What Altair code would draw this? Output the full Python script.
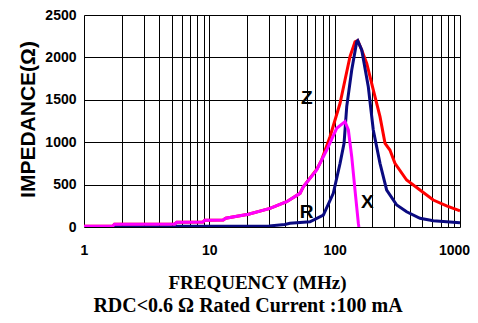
import altair as alt
import pandas as pd

# ---- data ----
r_freq = [1, 1.7, 1.75, 5.3, 5.5, 8.9, 9.2, 12.9, 13.5, 20.5, 30.5, 41.4, 52.9, 56.2,
          71.9, 86.4, 103.8, 120.9, 128.6, 136.8, 145.3, 154.5, 156]
r_vals = [10, 12, 32, 36, 55, 58, 79, 82, 103, 150, 220, 298, 397, 475,
          672, 908, 1164, 1242, 1144, 829, 436, 44, 0]

x_freq = [1, 5.4, 5.5, 30, 40, 44, 63.5, 81.2, 97.5, 110.4, 118.8, 124.8, 136.8, 150,
          152.7, 164.4, 185.5, 203.3, 230, 260, 312.7, 375, 479.5, 612, 1000]
x_vals = [0, 0, 8, 12, 30, 44, 62, 141, 397, 751, 987, 1419, 1851, 2185,
          2197, 2087, 1654, 1144, 751, 436, 259, 180, 103, 74, 51]

z_freq = [1, 1.7, 1.75, 5.3, 5.5, 8.9, 9.2, 12.9, 13.5, 20.5, 30.5, 41.4, 52.9, 56.2,
          71.9, 78.9, 91.8, 110.4, 120.9, 132.5, 145.3, 152.7, 164.4, 180.3, 203.3,
          230, 252.3, 276, 302.7, 375, 479.5, 612, 781.6, 1000]
z_vals = [10, 12, 32, 36, 55, 58, 79, 82, 103, 150, 220, 298, 397, 475,
          680, 795, 1065, 1459, 1733, 2008, 2185, 2200, 2087, 1930, 1616,
          1301, 987, 908, 751, 554, 436, 318, 248, 192]

label_text = ["Z", "R", "X"]
label_freq = [59.8, 59.8, 182]
label_vals = [1517, 180, 298]

grid_freqs = [1, 2, 3, 4, 5, 6, 7, 8, 9,
              10, 20, 30, 40, 50, 60, 70, 80, 90,
              100, 200, 300, 400, 500, 600, 700, 800, 900, 1000]
decade_labels = [1, 10, 100, 1000]
y_ticks = [0, 500, 1000, 1500, 2000, 2500]

df_r = pd.DataFrame({"f": r_freq, "v": r_vals})
df_x = pd.DataFrame({"f": x_freq, "v": x_vals})
df_z = pd.DataFrame({"f": z_freq, "v": z_vals})
df_lab = pd.DataFrame({"f": label_freq, "v": label_vals, "t": label_text})

xenc = alt.X(
    "f:Q",
    scale=alt.Scale(type="log", domain=[1, 1000], nice=False),
    axis=alt.Axis(
        values=grid_freqs,
        format="d",
        labelExpr="indexof(" + str(decade_labels) + ", datum.value) >= 0 ? datum.label : ''",
        grid=True, gridColor="black", gridWidth=1, gridOpacity=1,
        ticks=False, domain=False,
        labelFont="Liberation Sans", labelFontWeight="bold", labelFontSize=14,
        labelColor="black", labelPadding=16, labelOverlap=False, labelFlush=False,
        labelBound=False,
        labelOffset={"condition": {"test": "datum.value >= 1000", "value": -6}, "value": 0},
        title="FREQUENCY (MHz)", titleFont="Liberation Serif", titleFontSize=19,
        titleFontWeight="bold", titleColor="black",
        titleX=173, titleY=55, titleBaseline="middle", titleAlign="center",
    ),
)
yenc = alt.Y(
    "v:Q",
    scale=alt.Scale(domain=[0, 2500], nice=False),
    axis=alt.Axis(
        values=y_ticks,
        format="d",
        grid=True, gridColor="black", gridWidth=1, gridOpacity=1,
        ticks=False, domain=False,
        labelFont="Liberation Sans", labelFontWeight="bold", labelFontSize=14,
        labelColor="black", labelPadding=8,
        title="IMPEDANCE(Ω)", titleFont="Liberation Sans", titleFontSize=21,
        titleFontWeight="bold", titleColor="black",
        titleX=-56, titleY=104, titleAngle=270, titleBaseline="middle", titleAlign="center",
    ),
)

line_z = alt.Chart(df_z).mark_line(color="#FF0000", strokeWidth=3, clip=True).encode(x=xenc, y=yenc)
line_x = alt.Chart(df_x).mark_line(color="#0A0A80", strokeWidth=3, clip=True).encode(x=xenc, y=yenc)
line_r = alt.Chart(df_r).mark_line(color="#FF00FF", strokeWidth=3, clip=True).encode(x=xenc, y=yenc)
labels = alt.Chart(df_lab).mark_text(
    font="Liberation Sans", fontWeight="bold", fontSize=19, color="black"
).encode(x=xenc, y=yenc, text="t:N")

chart = alt.layer(line_z, line_x, line_r, labels).properties(
    width=376, height=212,
    autosize=alt.AutoSizeParams(type="none"),
    padding={"left": 76, "top": 7, "right": 10, "bottom": 88},
    title=alt.TitleParams(
        "RDC<0.6 Ω Rated Current :100 mA", orient="bottom", anchor="middle",
        font="Liberation Serif", fontSize=20, fontWeight="bold", color="black",
        offset=4, dx=-24,
    ),
).configure_view(stroke="black", strokeWidth=1).configure(background="white")

chart.save("out.html", embed_options={"renderer": "svg", "actions": False})
